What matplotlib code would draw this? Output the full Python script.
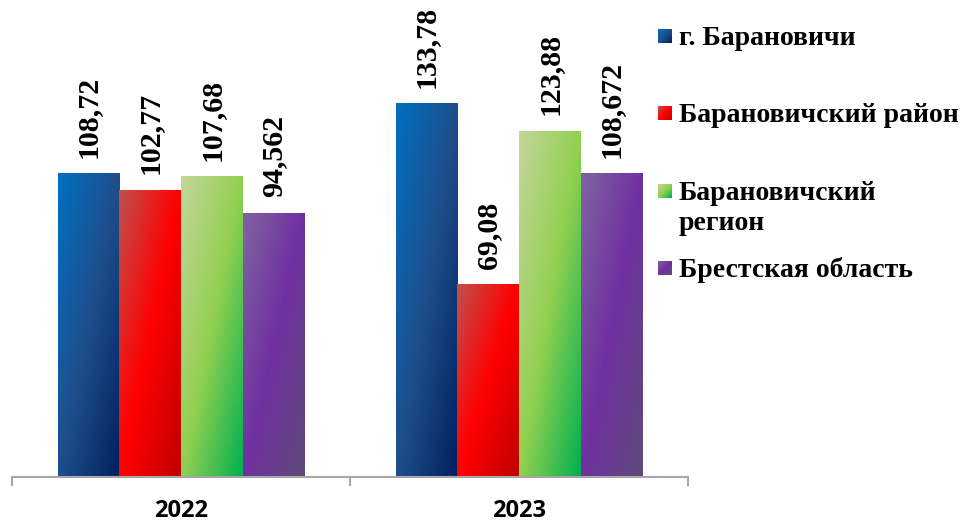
import numpy as np
import matplotlib
matplotlib.use('Agg')
import matplotlib.pyplot as plt
from matplotlib.colors import LinearSegmentedColormap

# data
years = ['2022', '2023']
series_names = ['г. Барановичи', 'Барановичский район', 'Барановичский\nрегион', 'Брестская область']
values = [
    [108.72, 133.78],   # г. Барановичи
    [102.77, 69.08],    # Барановичский район
    [107.68, 123.88],   # Барановичский регион
    [94.562, 108.672],  # Брестская область
]
# gradient stops: top-left -> middle -> bottom-right
gradients = [
    ['#0070C0', '#1F4E8C', '#002060'],
    ['#C0504D', '#FF0000', '#C00000'],
    ['#C3D69B', '#92D050', '#00B050'],
    ['#8064A2', '#7030A0', '#604A7B'],
]

W, H = 973, 524
fig = plt.figure(figsize=(W / 100, H / 100), dpi=100)
ax = fig.add_axes([12 / W, 47 / H, 676 / W, 477 / H])

serif = 'Liberation Serif'
cmaps = [LinearSegmentedColormap.from_list('g%d' % i, g) for i, g in enumerate(gradients)]

# diagonal gradient in shape-normalized coords
u = np.linspace(0, 1, 64)
v = np.linspace(0, 1, 256)
grad = (u[None, :] + v[:, None]) / 2.0

n = len(series_names)
width = 61.5 / 337.5
x = np.arange(len(years))
for i in range(n):
    xs = x + (i - (n - 1) / 2) * width
    bars = ax.bar(xs, values[i], width=width, color='none', edgecolor='none')
    for b, val in zip(bars, values[i]):
        x0, w = b.get_x(), b.get_width()
        im = ax.imshow(grad, cmap=cmaps[i], extent=(x0, x0 + w, 0, b.get_height()),
                       origin='upper', aspect='auto', interpolation='bilinear', zorder=2)
        im.set_clip_path(b)
        ax.annotate(str(val).replace('.', ','), (x0 + w / 2, b.get_height()),
                    xytext=(0, 11), textcoords='offset points', rotation=90,
                    ha='center', va='bottom', fontsize=21.5, fontweight='bold',
                    family=serif, annotation_clip=False)

ax.set_xlim(-0.5, 1.5)
ax.set_ylim(0, 477 / 2.795)
for s in ['left', 'right', 'top']:
    ax.spines[s].set_visible(False)
ax.spines['bottom'].set_color('#A6A6A6')
ax.spines['bottom'].set_linewidth(1.5)
ax.set_yticks([])
ax.set_xticks([-0.5, 0.5, 1.5])
ax.set_xticklabels([])
ax.tick_params(axis='x', which='major', length=6.5, width=1.5, color='#A6A6A6', direction='out')
ax.set_xticks(x, minor=True)
ax.set_xticklabels(years, minor=True, fontsize=17, fontweight='bold', family='Open Sans')
ax.tick_params(axis='x', which='minor', length=0, pad=16)

# legend drawn by hand (baseline of first line of each entry, px from top)
baselines = [45, 122, 200, 277]
line_gap = 30
for i, name in enumerate(series_names):
    yb = baselines[i]
    sq = fig.add_axes([658 / W, 1 - (yb - 2) / H, 14 / W, 14 / H])
    sq.imshow(grad[::4, :], cmap=cmaps[i], aspect='auto', origin='upper',
              interpolation='bilinear', extent=(0, 1, 0, 1))
    sq.set_axis_off()
    for k, line in enumerate(name.split('\n')):
        fig.text(679 / W, 1 - (yb + k * line_gap) / H, line, ha='left', va='baseline',
                 fontsize=20, fontweight='bold', family=serif)

fig.savefig('out.png', dpi=100)
